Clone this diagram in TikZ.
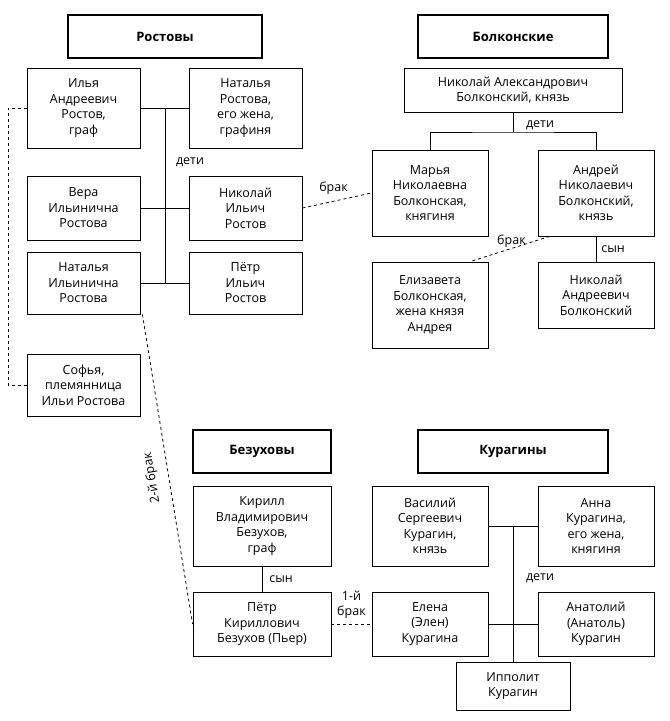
\documentclass[tikz,border=0pt]{standalone}
\usepackage{fontspec}
\setmainfont{Open Sans}
\usetikzlibrary{positioning,calc}
\begin{document}
\begin{tikzpicture}
[x=1pt,y=-1pt,
box/.style={draw=black,thick,align=center,font=\fontsize{12.5}{15.5}\selectfont,inner sep=1pt},
head/.style={draw=black,line width=1.6pt,font=\fontsize{13}{15}\selectfont\bfseries,minimum height=43pt},
tie/.style={thick},
marr/.style={thick,dashed},
lbl/.style={font=\fontsize{12.5}{15}\selectfont,inner sep=1pt}]
\useasboundingbox (0,0) rectangle (670,721);
%%
% headers
%%
\node[head,minimum width=194pt] (hros) at (165,36.5) {Ростовы};
\node[head,minimum width=190pt] (hbol) at (513,36.5) {Болконские};
\node[head,minimum width=138pt] (hbez) at (262,451.5) {Безуховы};
\node[head,minimum width=190pt] (hkur) at (513,451.5) {Курагины};
%%
% Rostovs
%%
\node[box,minimum width=113pt,minimum height=80pt] (ilya) at (83.5,108) {Илья\\Андреевич\\Ростов,\\граф};
\node[box,minimum width=113pt,minimum height=80pt] (natR) at (245.5,108) {Наталья\\Ростова,\\его жена,\\графиня};
\node[box,minimum width=113pt,minimum height=64pt] (vera) at (83.5,208) {Вера\\Ильинична\\Ростова};
\node[box,minimum width=113pt,minimum height=64pt] (nikI) at (245.5,208) {Николай\\Ильич\\Ростов};
\node[box,minimum width=113pt,minimum height=62pt] (natI) at (83.5,283) {Наталья\\Ильинична\\Ростова};
\node[box,minimum width=113pt,minimum height=62pt] (petrI) at (245.5,283) {Пётр\\Ильич\\Ростов};
\node[box,minimum width=113pt,minimum height=62pt] (sofya) at (83.5,385) {Софья,\\племянница\\Ильи Ростова};
\coordinate (rtop) at (165,108);
\coordinate (rbot) at (165,283);
\draw[tie] (ilya) -- (natR);
\draw[tie] (vera) -- (nikI);
\draw[tie] (natI) -- (petrI);
\draw[tie] (rtop) -- (rbot);
\node[lbl] (rdeti) at (190,162) {дети};
\coordinate (sl) at (8,108);
\draw[marr] (ilya.west) -- (sl) |- (sofya.west);
%%
% Bolkonskys
%%
\node[box,minimum width=218pt,minimum height=44pt] (nikA) at (513,90) {Николай Александрович\\Болконский, князь};
\node[box,minimum width=116pt,minimum height=86pt] (marya) at (430,193) {Марья\\Николаевна\\Болконская,\\княгиня};
\node[box,minimum width=116pt,minimum height=86pt] (andr) at (596,193) {Андрей\\Николаевич\\Болконский,\\князь};
\node[box,minimum width=116pt,minimum height=86pt] (liza) at (430,305) {Елизавета\\Болконская,\\жена князя\\Андрея};
\node[box,minimum width=116pt,minimum height=66pt] (nikAn) at (596,295) {Николай\\Андреевич\\Болконский};
\coordinate (bmid) at (513,132);
\draw[tie] (nikA) -- (bmid);
\draw[tie] (marya.north) |- (bmid) -| (andr.north);
\node[lbl] (bdeti) at (540,125) {дети};
\draw[tie] (andr) -- (nikAn) node[lbl,midway,right=4pt] {сын};
\draw[marr] (nikI.east) -- (marya.west) node[lbl,pos=.45,above=5pt] {брак};
\draw[marr] ([xshift=12pt]andr.south west) -- ([xshift=40pt]liza.north) node[lbl,midway,above right=0pt and -14pt] {брак};
%%
% Bezukhovs
%%
\node[box,minimum width=138pt,minimum height=80pt] (kirill) at (262,526) {Кирилл\\Владимирович\\Безухов,\\граф};
\node[box,minimum width=138pt,minimum height=64pt] (pierre) at (262,624) {Пётр\\Кириллович\\Безухов (Пьер)};
\draw[tie] (kirill) -- (pierre) node[lbl,midway,right=6pt] {сын};
\draw[marr] ([xshift=2pt]natI.south east) -- (pierre.west);
\node[lbl,rotate=99.6] (br2) at (152,478) {2-й брак};
%%
% Kuragins
%%
\node[box,minimum width=116pt,minimum height=80pt] (vas) at (430,526) {Василий\\Сергеевич\\Курагин,\\князь};
\node[box,minimum width=116pt,minimum height=80pt] (anna) at (596,526) {Анна\\Курагина,\\его жена,\\княгиня};
\node[box,minimum width=116pt,minimum height=64pt] (elena) at (430,624) {Елена\\(Элен)\\Курагина};
\node[box,minimum width=116pt,minimum height=64pt] (anat) at (596,624) {Анатолий\\(Анатоль)\\Курагин};
\node[box,minimum width=114pt,minimum height=48pt] (ipp) at (513,686) {Ипполит\\Курагин};
\coordinate (ktop) at (513,526);
\draw[tie] (vas) -- (anna);
\draw[tie] (elena) -- (anat);
\draw[tie] (ktop) -- (ipp.north);
\node[lbl] (kdeti) at (540,578) {дети};
\draw[marr] (pierre.east) -- (elena.west) node[lbl,midway,above=4pt,align=center] {1-й\\брак};
\end{tikzpicture}
\end{document}
